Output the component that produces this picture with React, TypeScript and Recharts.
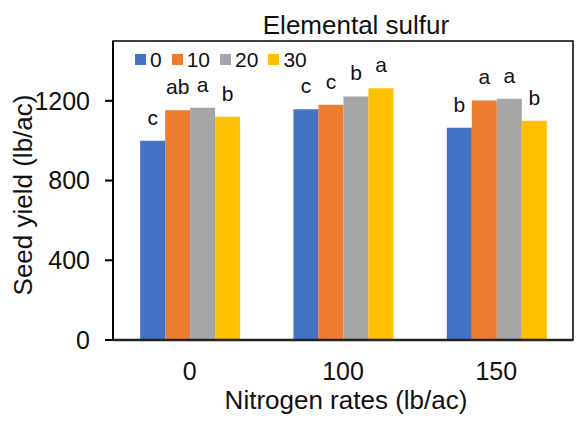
import React from 'react';
import { BarChart, Bar, XAxis, YAxis, Legend, LabelList, ReferenceArea } from 'recharts';

const categories = ['0', '100', '150'];
const seriesNames = ['0', '10', '20', '30'];
const series0 = [1000, 1158, 1065];
const series10 = [1153, 1180, 1202];
const series20 = [1165, 1222, 1210];
const series30 = [1120, 1263, 1100];
const letters0 = ['c', 'c', 'b'];
const letters10 = ['ab', 'c', 'a'];
const letters20 = ['a', 'b', 'a'];
const letters30 = ['b', 'a', 'b'];
const yTicks = [0, 400, 800, 1200];
const yMax = 1500;

const colors = ['#4472C4', '#ED7D31', '#A5A5A5', '#FFC000'];
const FONT = '"Liberation Sans", Arial, sans-serif';
const TXT = '#111';

const values = [series0, series10, series20, series30];
const letters = [letters0, letters10, letters20, letters30];

const data = categories.map((c, i) => {
  const row: any = { name: c };
  seriesNames.forEach((s, k) => {
    row['s' + k] = values[k][i];
    row['l' + k] = letters[k][i];
  });
  return row;
});

const LegendContent = () => (
  <div style={{ display: 'flex', alignItems: 'center', fontFamily: FONT, fontSize: 21, lineHeight: '24px', color: TXT }}>
    {seriesNames.map((s, k) => (
      <div key={s} style={{ display: 'flex', alignItems: 'center', marginRight: 10 }}>
        <span style={{ display: 'inline-block', width: 11, height: 11, background: colors[k], marginRight: 4 }} />
        <span>{s}</span>
      </div>
    ))}
  </div>
);

export default function App() {
  return (
    <div style={{ position: 'absolute', left: 0, top: 0, width: 580, height: 423, background: '#fff' }}>
      <div
        style={{
          position: 'absolute',
          left: 206,
          width: 300,
          top: 12,
          textAlign: 'center',
          fontFamily: FONT,
          fontSize: 26,
          lineHeight: '26px',
          color: TXT,
          zIndex: 2,
        }}
      >
        Elemental sulfur
      </div>
      <BarChart
        width={580}
        height={423}
        data={data}
        margin={{ top: 41, right: 7, bottom: 0, left: 0 }}
        barCategoryGap="17.7%"
        barGap={0}
      >
        <XAxis
          dataKey="name"
          height={83}
          tickLine={false}
          tickSize={0}
          tickMargin={22}
          axisLine={{ stroke: '#222', strokeWidth: 2.5 }}
          tick={{ fontSize: 25, fill: TXT, fontFamily: FONT }}
          label={{
            content: () => (
              <text x={346} y={409} textAnchor="middle" fontSize={26} fill={TXT} fontFamily={FONT}>
                Nitrogen rates (lb/ac)
              </text>
            ),
          }}
        />
        <YAxis
          width={113}
          domain={[0, yMax]}
          ticks={yTicks}
          interval={0}
          tickSize={8}
          tickMargin={15}
          tickLine={{ stroke: '#000', strokeWidth: 2 }}
          axisLine={{ stroke: '#000', strokeWidth: 2 }}
          tick={{ fontSize: 25, fill: TXT, fontFamily: FONT }}
          label={{
            content: () => (
              <text
                x={32}
                y={195}
                transform="rotate(-90 32 195)"
                textAnchor="middle"
                fontSize={26}
                fill={TXT}
                fontFamily={FONT}
              >
                Seed yield (lb/ac)
              </text>
            ),
          }}
        />
        <ReferenceArea y1={0} y2={yMax} fill="none" stroke="#000" strokeWidth={1.5} ifOverflow="visible" />
        <Legend
          layout="vertical"
          verticalAlign="middle"
          align="center"
          content={<LegendContent />}
          wrapperStyle={{ top: 47.5, left: 135, width: 'auto', height: 'auto' }}
        />
        {seriesNames.map((s, k) => (
          <Bar key={s} dataKey={'s' + k} name={s} fill={colors[k]} isAnimationActive={false}>
            <LabelList dataKey={'l' + k} position="top" offset={16} fill={TXT} fontSize={21} fontFamily={FONT} />
          </Bar>
        ))}
      </BarChart>
    </div>
  );
}
